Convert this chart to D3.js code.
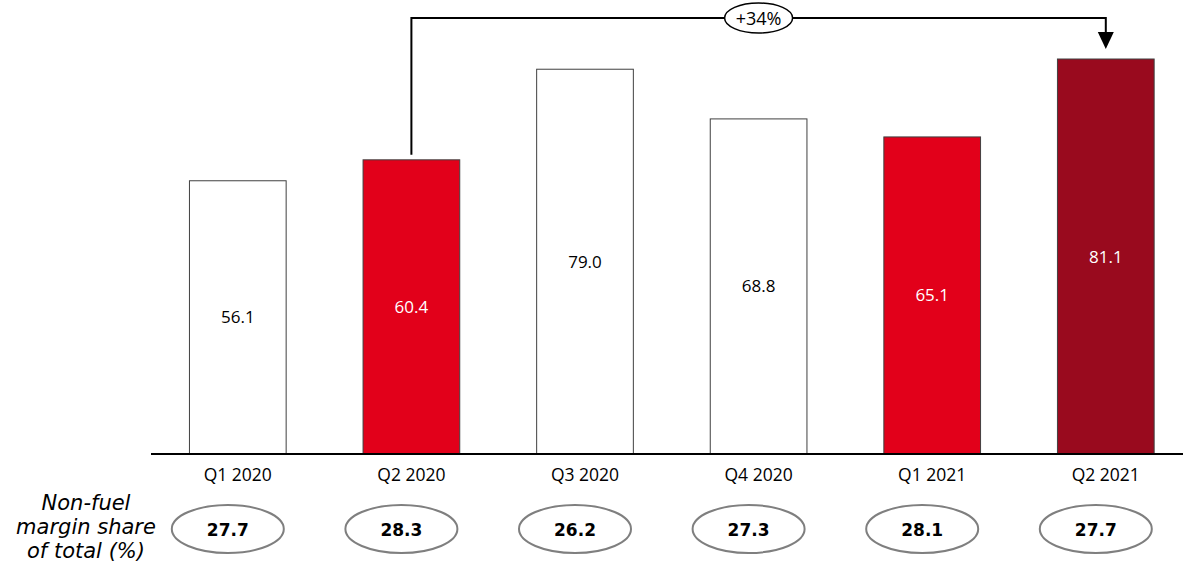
<!DOCTYPE html>
<html>
<head>
<meta charset="utf-8">
<script src="https://cdn.jsdelivr.net/npm/d3@7"></script>
<style>
  body { margin: 0; background: #fff; }
  svg { display: block; }
</style>
</head>
<body>
<div id="chart"></div>
<script>
// quarterly values
const quarters = ["Q1 2020", "Q2 2020", "Q3 2020", "Q4 2020", "Q1 2021", "Q2 2021"];
const margin = [56.1, 60.4, 79.0, 68.8, 65.1, 81.1];
const barColors = ["#ffffff", "#e2001a", "#ffffff", "#ffffff", "#e2001a", "#990a1e"];
const shares = [27.7, 28.3, 26.2, 27.3, 28.1, 27.7];
const growthLabel = "+34%";
const shareLabel = ["Non-fuel", "margin share", "of total (%)"];

const w = 1183, h = 563;
const svg = d3.select("#chart").append("svg")
  .attr("width", w)
  .attr("height", h);

const x = d3.scaleBand()
  .domain(quarters)
  .range([151, 1192.6])
  .paddingInner(0.443)
  .paddingOuter(0.2215);

const y = d3.scaleLinear()
  .domain([0, 81.1])
  .range([454, 59]);

// bars
svg.append("g")
  .selectAll("rect")
  .data(quarters)
  .enter().append("rect")
  .attr("x", d => x(d))
  .attr("y", (d, i) => y(margin[i]))
  .attr("width", x.bandwidth())
  .attr("height", (d, i) => y(0) - y(margin[i]))
  .attr("fill", (d, i) => barColors[i])
  .attr("stroke", "#404040")
  .attr("stroke-width", 1);

// value labels inside bars
svg.append("g")
  .selectAll("text")
  .data(quarters)
  .enter().append("text")
  .attr("x", d => x(d) + x.bandwidth() / 2)
  .attr("y", (d, i) => (y(margin[i]) + y(0)) / 2 + 6)
  .attr("text-anchor", "middle")
  .attr("font-family", "'Open Sans', sans-serif")
  .attr("font-size", 17)
  .attr("fill", (d, i) => barColors[i] === "#ffffff" ? "#000" : "#fff")
  .text((d, i) => margin[i].toFixed(1));

// baseline
svg.append("line")
  .attr("x1", 151).attr("x2", w)
  .attr("y1", y(0)).attr("y2", y(0))
  .attr("stroke", "#000")
  .attr("stroke-width", 2);

// category labels
svg.append("g")
  .selectAll("text")
  .data(quarters)
  .enter().append("text")
  .attr("x", d => x(d) + x.bandwidth() / 2)
  .attr("y", 481)
  .attr("text-anchor", "middle")
  .attr("font-family", "'Open Sans', sans-serif")
  .attr("font-size", 17.5)
  .attr("fill", "#000")
  .text(d => d);

// growth bracket from Q2 2020 to Q2 2021
const x0 = x("Q2 2020") + x.bandwidth() / 2;
const x1 = x("Q2 2021") + x.bandwidth() / 2;
const topY = 18;
svg.append("path")
  .attr("d", `M${x0},${y(margin[1]) - 5} V${topY} H${x1} V${y(margin[5]) - 26}`)
  .attr("fill", "none")
  .attr("stroke", "#000")
  .attr("stroke-width", 2);
svg.append("path")
  .attr("d", `M${x1 - 8},${y(margin[5]) - 27} L${x1 + 8},${y(margin[5]) - 27} L${x1},${y(margin[5]) - 10} Z`)
  .attr("fill", "#000");

const gx = (x("Q4 2020") + x.bandwidth() / 2);
svg.append("ellipse")
  .attr("cx", gx).attr("cy", topY)
  .attr("rx", 34).attr("ry", 15)
  .attr("fill", "#fff")
  .attr("stroke", "#000")
  .attr("stroke-width", 1.5);
svg.append("text")
  .attr("x", gx).attr("y", topY + 6.5)
  .attr("text-anchor", "middle")
  .attr("font-family", "'Open Sans', sans-serif")
  .attr("font-size", 18)
  .text(growthLabel);

// share ellipses
const sg = svg.append("g");
sg.selectAll("ellipse")
  .data(quarters)
  .enter().append("ellipse")
  .attr("cx", d => x(d) + x.bandwidth() / 2 - 10)
  .attr("cy", 529)
  .attr("rx", 56)
  .attr("ry", 24)
  .attr("fill", "#fff")
  .attr("stroke", "#7f7f7f")
  .attr("stroke-width", 2);
sg.selectAll("text")
  .data(quarters)
  .enter().append("text")
  .attr("x", d => x(d) + x.bandwidth() / 2 - 10)
  .attr("y", 536)
  .attr("text-anchor", "middle")
  .attr("font-family", "'DejaVu Sans', sans-serif")
  .attr("font-weight", "bold")
  .attr("font-size", 17)
  .text((d, i) => shares[i].toFixed(1));

// left label
svg.append("g")
  .selectAll("text")
  .data(shareLabel)
  .enter().append("text")
  .attr("x", 86)
  .attr("y", (d, i) => 510 + i * 24)
  .attr("text-anchor", "middle")
  .attr("font-family", "'DejaVu Sans', sans-serif")
  .attr("font-style", "italic")
  .attr("font-size", 21)
  .text(d => d);
</script>
</body>
</html>
